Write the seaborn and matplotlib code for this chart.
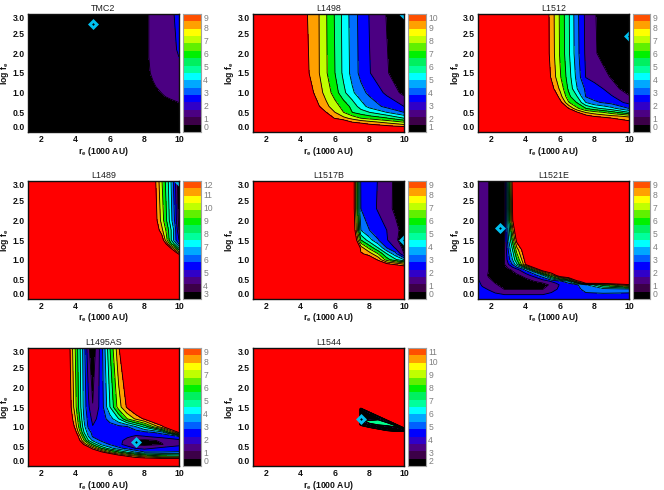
import numpy as np
import matplotlib
matplotlib.use("Agg")
import matplotlib.pyplot as plt
from matplotlib.ticker import MultipleLocator
import seaborn as sns

sns.set_style("white")
plt.rcParams["font.family"] = ["Liberation Sans", "DejaVu Sans"]
plt.rcParams["mathtext.default"] = "regular"

BAR_COLORS = ["#000000", "#3c0048", "#4b0082", "#3000c8", "#0000ff", "#0060ff", "#00a8ff", "#00ffff",
              "#00ff9c", "#00f060", "#00f000", "#60f000", "#c0ff00", "#ffff00", "#ffa000", "#ff5000"]
FILL_COLORS = ["#000000", "#4b0082", "#0000ff", "#0070ff", "#00ffff", "#00ff90", "#00f000", "#c0ff00", "#ffa000"]
OVER = "#ff0000"
MARK = "#00c0f0"

TITLES = ["TMC2", "L1498", "L1512", "L1489", "L1517B", "L1521E", "L1495AS", "L1544"]
VMIN = [0, 1, 0, 3, 0, 0, 0, 2]
BEST_R = [5, 10, 10, 10, 10, 2.5, 7.5, 7.5]
BEST_F = [2.75, 3, 2.45, 3, 1.5, 1.8, 0.6, 1.2]

R0 = [1.25, 8, 8.5, 9, 9.5, 10]
F0 = [0, .5, .75, .9, 1.15, 1.5, 1.9, 2.1, 3]
Z0 = [[0, 0, 0, 0, 0, 0],
      [0, .2, .2, .3, .4, .5],
      [0, .3, .45, .6, .8, 1],
      [0, .4, .6, .9, 1.15, 1.3],
      [0, .55, .9, 1.2, 1.4, 1.6],
      [0, .7, 1.15, 1.35, 1.5, 1.7],
      [0, .8, 1.2, 1.4, 1.7, 2.0],
      [0, .8, 1.2, 1.45, 1.75, 2.1],
      [0, .8, 1.2, 1.5, 1.85, 2.2]]

R1 = [1.25, 4.5, 5, 5.5, 6, 6.5, 7, 7.5, 8, 9, 10]
F1 = [0, .15, .25, .35, .5, .65, 1, 1.5, 3]
Z1 = [[14, 14, 14, 14, 14, 14, 14, 14, 14, 14, 14],
      [14, 14, 14, 14, 13, 12, 11.5, 11, 10.6, 10.2, 9.7],
      [14, 14, 14, 13, 12, 11, 10, 9.7, 9.35, 8.7, 8],
      [14, 13, 12, 11, 9.9, 9.3, 8.7, 8, 7.7, 7.1, 6],
      [14, 12, 11, 10, 9, 8, 7, 6.5, 6, 5, 4],
      [14, 11.1, 10.2, 9.25, 8.45, 7.6, 6.7, 5.5, 4.65, 3.7, 3],
      [14, 10.5, 9.55, 8.6, 7.5, 6.25, 5.2, 4.35, 3.75, 2.8, 1.7],
      [12, 10, 9.2, 8.1, 7, 5.75, 4.65, 3.7, 3.05, 2.1, 1.2],
      [12, 9.94, 9.17, 8.05, 6.9, 5.7, 4.55, 3.65, 2.95, 1.95, 1]]

R2 = [1.25, 5, 5.5, 6, 6.5, 7, 7.5, 8, 8.5, 9, 10]
F2 = [0, .25, .4, .5, .6, .75, .9, 1.1, 1.4, 2, 3]
Z2 = [[14, 14, 14, 14, 14, 14, 14, 14, 14, 14, 14],
      [14, 14, 14, 14, 14, 14, 13, 12, 11, 10.5, 9.4],
      [14, 14, 14, 14, 13, 11, 9.5, 8.9, 8.6, 8.3, 7.8],
      [14, 14, 14, 13, 11, 9.1, 7.9, 7.4, 7, 6.4, 5],
      [14, 14, 13, 11, 9, 7.2, 6, 5.3, 4.8, 4.3, 3],
      [14, 13, 12, 9.5, 7.1, 5.9, 4, 3.2, 2.9, 2.6, 1.7],
      [14, 12, 11, 8.5, 6.3, 5, 2.95, 2.6, 2.4, 2.1, 1.1],
      [14, 11, 9.5, 7.8, 5.8, 4, 2.8, 2.4, 2, 1.4, .5],
      [14, 10.5, 8.85, 7.15, 5.5, 3.6, 1.95, 1.62, 1.3, .9, .3],
      [12, 10.2, 8.6, 6.9, 5.2, 3.3, 1.8, 1.12, .7, .45, .1],
      [12, 10.2, 8.55, 6.85, 5.15, 3.24, 1.73, 1.08, .6, .3, 0]]

R3 = [1.25, 8.5, 8.75, 9, 9.25, 9.5, 9.75, 10]
F3 = [0, 1.1, 1.2, 1.3, 1.4, 1.5, 1.75, 2, 3]
Z3 = [[14, 14, 14, 14, 14, 14, 14, 14],
      [14, 14, 14, 14, 14, 14, 14, 13],
      [14, 14, 14, 14, 14, 14, 12.3, 10],
      [14, 14, 14, 14, 14, 12, 10, 7.7],
      [14, 14, 14, 13.5, 12, 9.5, 7.8, 6],
      [14, 14, 14, 12.9, 10.5, 8.4, 6.4, 5],
      [14, 13.5, 12.5, 11.3, 9.9, 8.3, 6.6, 4],
      [14, 13, 11.9, 10.6, 9.2, 7.6, 5.9, 3.6],
      [14, 12.8, 11.5, 10.1, 8.75, 7.3, 5.4, 3.2]]

R4 = [1.25, 7, 7.25, 7.5, 8, 8.5, 9, 9.5, 10]
F4 = [0, .8, .9, 1, 1.15, 1.3, 1.5, 1.75, 2.3, 3]
Z4 = [[14, 14, 14, 14, 14, 14, 14, 14, 14],
      [14, 14, 14, 14, 14, 13, 11, 10.5, 10],
      [14, 14, 14, 13, 11.5, 10, 9, 8.4, 7.6],
      [14, 14, 13, 12, 10, 8.8, 6.5, 5.2, 4],
      [14, 14, 13, 9.2, 8.5, 7, 5, 3.4, 1],
      [14, 13, 12, 8.5, 6.7, 5, 3, 1.9, .7],
      [14, 12, 9, 6, 4.4, 3.05, 2.1, 1.15, .6],
      [12, 11, 7.8, 4, 3, 2.5, 2, 1.3, .6],
      [12, 10.5, 7.2, 3, 2.4, 1.9, 1.35, .8, .3],
      [12, 10.5, 7.2, 2.9, 2.5, 1.95, 1.4, .8, .2]]

R5 = [1.25, 1.5, 1.87, 2.25, 2.79, 3, 3.25, 3.5, 4, 5, 5.5, 6, 6.5, 7, 7.5, 8.5, 10]
F5 = [0, .12, .25, .36, .4, .45, .6, .75, .88, 1, 1.25, 1.5, 2, 3]
Z5 = [[2.9, 2.8, 2.7, 2.6, 2.6, 2.6, 2.6, 2.6, 2.6, 2.6, 2.6, 2.6, 2.6, 2.6, 2.6, 2.6, 2.6],
      [2.9, 2.7, 2.5, 2.2, 1.95, 1.95, 1.95, 1.95, 1.95, 1.95, 2.2, 2.5, 2.6, 2.7, 2.8, 2.85, 2.7],
      [2.7, 2.3, 1.9, 1.4, .97, .97, .97, .97, .97, .97, 1.6, 2.2, 2.5, 2.7, 3.4, 3.6, 3.8],
      [2.5, 1.8, 1.4, 1.1, .7, .65, .6, .5, .4, .8, 1.1, 2.1, 2.6, 2.9, 3.9, 6.5, 8.9],
      [2.3, 1.75, 1.3, 1.0, .5, .45, .4, .4, .5, .95, 1.6, 2.3, 3, 5, 9, 9.2, 9.4],
      [2.2, 1.6, 1.2, .9, .3, .25, .2, .3, .6, 1.4, 2.1, 2.7, 4, 8.7, 9.7, 9.6, 9.5],
      [1.8, 1.5, .9, .4, .3, .4, .6, .8, 1.35, 3.8, 7, 10.5, 12, 12, 12, 12, 12],
      [1.8, 1.5, 1, .5, .6, .85, 1.15, 1.7, 3.3, 10.5, 12, 12, 12, 12, 12, 12, 12],
      [1.8, 1.5, 1, .5, 1, 1.9, 3.1, 4.8, 9, 12, 12, 12, 12, 12, 12, 12, 12],
      [1.7, 1.45, 1, .5, 1, 2.5, 4, 6, 9.5, 12, 12, 12, 12, 12, 12, 12, 12],
      [1.6, 1.4, 1, .5, 1, 3, 5, 7.5, 10.2, 12, 12, 12, 12, 12, 12, 12, 12],
      [1.6, 1.4, 1, .5, 1, 3.7, 6.3, 9.5, 12, 12, 12, 12, 12, 12, 12, 12, 12],
      [1.6, 1.4, 1, .5, 1, 4.5, 8.8, 12, 12, 12, 12, 12, 12, 12, 12, 12, 12],
      [1.6, 1.4, 1, .5, 1, 4.9, 9.5, 12, 12, 12, 12, 12, 12, 12, 12, 12, 12]]

R6 = [1.25, 3.5, 4, 4.5, 4.75, 5, 5.5, 6, 6.5, 7, 7.5, 8, 9, 10]
F6 = [0, .15, .25, .35, .45, .55, .65, .75, .85, 1, 1.2, 1.5, 3]
Z6 = [[14, 14, 14, 14, 14, 14, 14, 14, 14, 14, 14, 14, 14, 14],
      [14, 14, 14, 14, 14, 14, 14, 14, 14, 11, 11, 11, 11, 11],
      [14, 14, 14, 14, 14, 14, 13, 12, 10, 8.9, 8, 7.3, 6.2, 6],
      [14, 14, 14, 14, 13, 11, 9.4, 7.5, 6.2, 5, 4, 3.1, 3.05, 3.05],
      [14, 14, 14, 12, 10, 8.5, 6, 4.4, 3.3, 2.7, 1.95, 1.7, 2.3, 2.7],
      [14, 14, 13, 8.7, 7.3, 5.8, 3.8, 2.9, 2.3, 1.5, .8, .75, .95, 1.6],
      [14, 14, 11, 7, 5, 3.8, 2.8, 2.5, 2.2, 1.8, .9, .8, 1.1, 1.7],
      [14, 14, 10.5, 6, 4, 2.9, 2.6, 2.4, 2.3, 2.1, 1.9, 1.95, 2.4, 3],
      [14, 13, 9.5, 5, 3.5, 2.7, 2.4, 2.4, 2.3, 2.3, 2.3, 2.6, 3.3, 9],
      [14, 12, 8.5, 4.3, 2.8, 2.05, 2.3, 2.5, 2.7, 2.95, 4, 5.3, 8.7, 12],
      [14, 11, 8, 3.9, 2.6, 1.7, 2.4, 3.5, 5, 7, 8.2, 9.2, 11, 12],
      [14, 10.7, 7.3, 3.6, 2.2, 1.05, 2.4, 5, 7.5, 9.2, 10.5, 12, 12, 12],
      [12, 10.2, 6.9, 3.4, 1.2, .3, 2.5, 6, 8.8, 12, 12, 12, 12, 12]]

R7 = [1.25, 7.42, 7.5, 8, 8.5, 9, 9.5, 10]
F7 = [[0, 0, 0, 0, 0, 0, 0, 0],
      [1.02, 1.02, 1.02, .97, .93, .89, .87, .87],
      [1.05, 1.05, 1.05, 1.0, .96, .92, .9, .9],
      [1.18, 1.18, 1.18, 1.07, 1.03, 1.01, .98, .92],
      [1.2, 1.2, 1.2, 1.09, 1.05, 1.03, 1.0, .925],
      [1.2, 1.2, 1.2, 1.15, 1.17, 1.1, 1.02, .93],
      [1.22, 1.22, 1.22, 1.17, 1.19, 1.12, 1.04, .935],
      [1.45, 1.45, 1.45, 1.35, 1.25, 1.15, 1.05, .95],
      [1.48, 1.48, 1.48, 1.38, 1.28, 1.18, 1.08, .98],
      [3, 3, 3, 3, 3, 3, 3, 3]]
Z7 = [[14, 14, 14, 14, 14, 14, 14, 14],
      [14, 14, 14, 14, 14, 14, 14, 14],
      [14, 14, 2.5, 2.5, 2.5, 2.5, 2.5, 2.5],
      [14, 14, 2.5, 2.5, 2.5, 2.5, 2.5, 2.5],
      [14, 14, 6.5, 7.5, 7.5, 7.5, 7.5, 6.5],
      [14, 14, 6.5, 7.5, 7.5, 7.5, 7.5, 6.5],
      [14, 14, 2.5, 2.5, 2.5, 2.5, 2.5, 2.5],
      [14, 14, 2.5, 2.5, 2.5, 2.5, 2.5, 2.5],
      [14, 14, 14, 14, 14, 14, 14, 14],
      [14, 14, 14, 14, 14, 14, 14, 14]]

GRIDS = [(R0, F0, Z0), (R1, F1, Z1), (R2, F2, Z2), (R3, F3, Z3),
         (R4, F4, Z4), (R5, F5, Z5), (R6, F6, Z6), (R7, F7, Z7)]

W, H = 664, 490
AX_LEFT = [28, 253, 478]
BAR_LEFT = [183, 408, 632.5]
AX_TOP = [14, 181, 348]
AX_W, AX_H, BAR_W = 151, 118, 17.5
GREY = "#808080"
DARK = "#101010"
FS = 6.2

fig = plt.figure(figsize=(W / 100, H / 100), dpi=100)


def rect(x, y, w, h):
    return [x / W, 1 - (y + h) / H, w / W, h / H]


for i, title in enumerate(TITLES):
    row, col = divmod(i, 3)
    ax = fig.add_axes(rect(AX_LEFT[col], AX_TOP[row], AX_W, AX_H))
    r, f, z = GRIDS[i]
    base = VMIN[i]
    lev = [base + k for k in range(10)]
    z = np.array(z, float)
    f = np.array(f, float)
    if f.ndim == 2:
        r = np.tile(np.array(r, float), (f.shape[0], 1))
    cf = ax.contourf(r, f, z, levels=lev, colors=FILL_COLORS, extend="both")
    cf.cmap.set_over(OVER)
    cf.cmap.set_under("#000000")
    ax.set_facecolor(OVER)
    ax.contour(r, f, z, levels=lev[1:], colors="k", linewidths=0.6)
    ax.plot([BEST_R[i]], [BEST_F[i]], marker="D", ms=3.5, mew=2.1, mec=MARK, mfc="k", ls="none")
    ax.set_xlim(1.25, 10)
    ax.set_ylim(0, 3)
    ax.xaxis.set_minor_locator(MultipleLocator(0.5))
    ax.yaxis.set_minor_locator(MultipleLocator(0.1))
    ax.tick_params(which="major", direction="in", length=3, width=0.7, color=DARK, top=True, right=True,
                   left=True, bottom=True, pad=2.5)
    ax.tick_params(which="minor", direction="in", length=1.5, width=0.7, color=DARK, top=True, right=True,
                   left=True, bottom=True)
    ax.set_xticks([2, 4, 6, 8, 10])
    ax.set_xticklabels(["2", "4", "6", "8", "10"], fontsize=FS, fontweight="bold", color=DARK)
    yt = [0, .5, 1, 1.5, 2, 2.5, 3]
    ax.set_yticks(yt)
    labs = ax.set_yticklabels([f"{v:.1f}" for v in yt], fontsize=FS, fontweight="bold", color=DARK)
    labs[0].set_va("bottom")
    labs[-1].set_va("top")
    for s in ax.spines.values():
        s.set_linewidth(1.0)
        s.set_color(DARK)
    ax.set_title(title, fontsize=6.4, pad=2.5, color="#202020")
    ax.set_xlabel(r"r$_{e}$ (1000 AU)", fontsize=FS, fontweight="bold", color=DARK, va="center")
    ax.set_ylabel(r"log f$_{e}$", fontsize=FS, fontweight="bold", color=DARK, va="center")
    ax.xaxis.set_label_coords(0.5, -19 / AX_H)
    ax.yaxis.set_label_coords(-23 / AX_W, 0.5)

    bar = fig.add_axes(rect(BAR_LEFT[col], AX_TOP[row], BAR_W, AX_H))
    sns.heatmap(np.arange(16).reshape(-1, 1), ax=bar, cmap=BAR_COLORS, cbar=False, xticklabels=False, yticklabels=False)
    bar.set_ylim(0, 16)
    bar.yaxis.tick_right()
    pos = [k * 16 / 9 for k in range(10)]
    bar.set_yticks(pos)
    blabs = bar.set_yticklabels([str(base + k) for k in range(10)], fontsize=FS, color=GREY, rotation=0)
    blabs[0].set_va("bottom")
    blabs[-1].set_va("top")
    bar.tick_params(axis="y", direction="in", length=2.5, width=0.6, color=GREY, right=True, left=False, pad=2)
    for s in bar.spines.values():
        s.set_visible(True)
        s.set_linewidth(0.8)
        s.set_color("#a0a0a0")

fig.savefig("out.png", dpi=100)
